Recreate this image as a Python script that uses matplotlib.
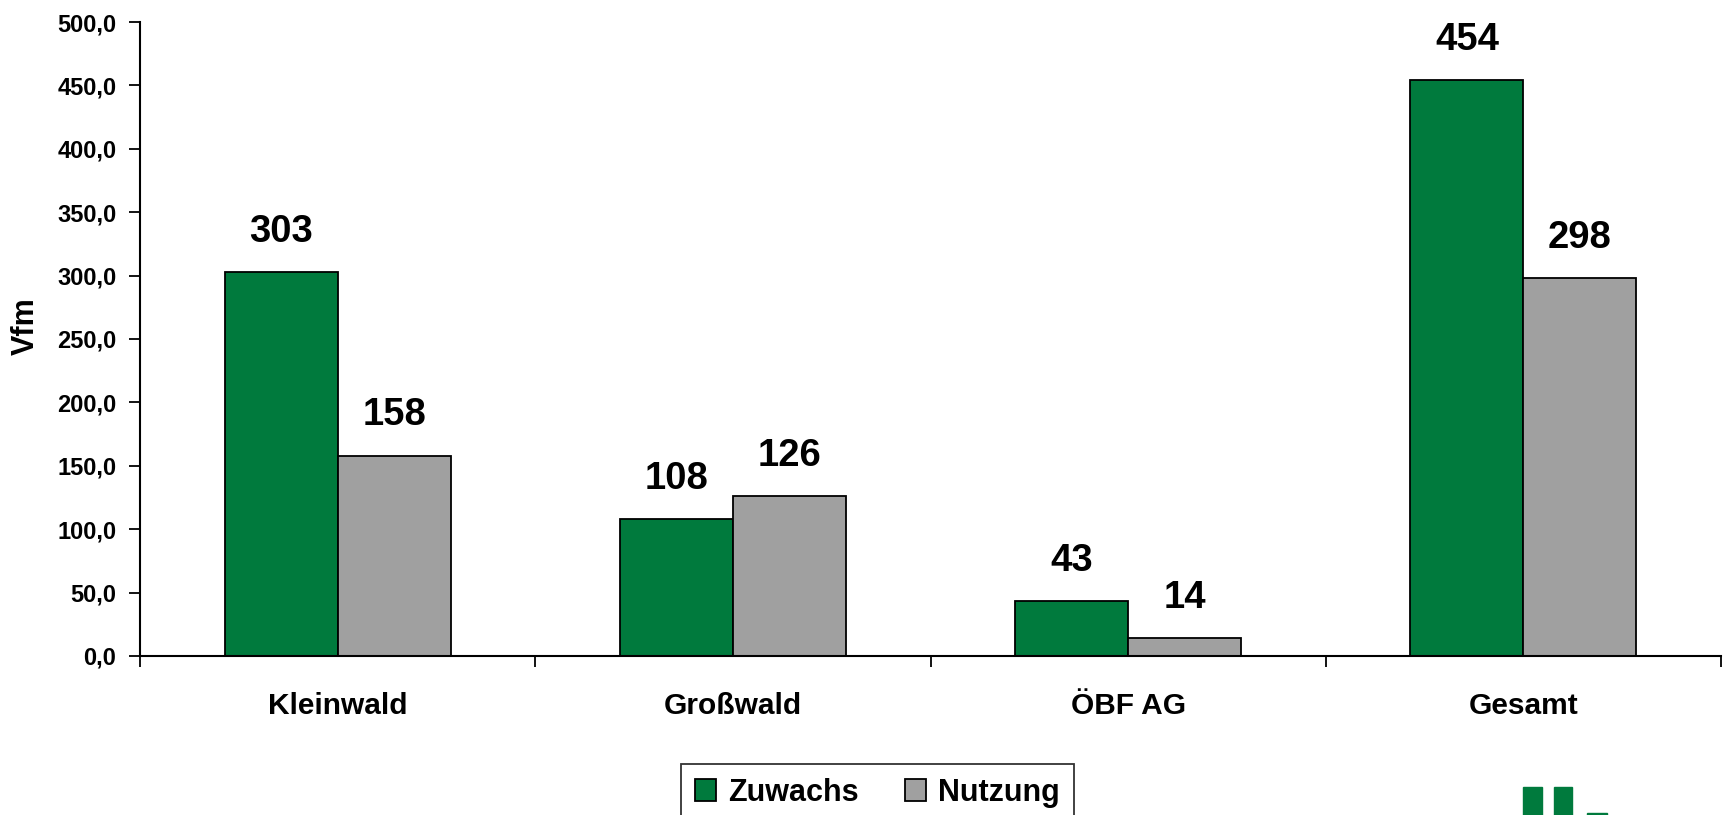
import matplotlib

matplotlib.use("Agg")
import matplotlib.pyplot as plt
from matplotlib.patches import Rectangle
import numpy as np

categories = ["Kleinwald", "Großwald", "ÖBF AG", "Gesamt"]
zuwachs = [303, 108, 43, 454]
nutzung = [158, 126, 14, 298]
y_ticks = [0, 50, 100, 150, 200, 250, 300, 350, 400, 450, 500]
y_tick_labels = ["0,0", "50,0", "100,0", "150,0", "200,0", "250,0",
                 "300,0", "350,0", "400,0", "450,0", "500,0"]

GREEN = "#007A3D"
GRAY = "#A0A0A0"

plt.rcParams["font.family"] = ["Liberation Sans", "DejaVu Sans"]
plt.rcParams["font.weight"] = "bold"

fig = plt.figure(figsize=(17.24, 8.15), dpi=100)
ax = fig.add_axes([0.0812, 0.1951, 0.9171, 0.7779])

x = np.arange(len(categories))
width = 0.286
b1 = ax.bar(x - width / 2, zuwachs, width, color=GREEN, edgecolor="black",
            linewidth=1.3, label="Zuwachs")
b2 = ax.bar(x + width / 2, nutzung, width, color=GRAY, edgecolor="black",
            linewidth=1.3, label="Nutzung")

for bars, vals in ((b1, zuwachs), (b2, nutzung)):
    for bar, v in zip(bars, vals):
        ax.annotate(f"{v}", (bar.get_x() + bar.get_width() / 2, v),
                    xytext=(0, 16), textcoords="offset points",
                    ha="center", va="bottom", fontsize=27.5, fontweight="bold")

ax.set_xlim(-0.5, len(categories) - 0.5)
ax.set_ylim(0, 500)
ax.set_yticks(y_ticks)
ax.set_yticklabels(y_tick_labels, fontsize=17, fontweight="bold")
ax.tick_params(axis="y", length=8, width=1.3, pad=9)

ax.set_xticks(np.arange(len(categories) + 1) - 0.5)
ax.set_xticklabels([])
ax.set_xticks(x, minor=True)
ax.set_xticklabels(categories, minor=True, fontsize=21.5, fontweight="bold")
ax.tick_params(axis="x", which="major", length=8, width=1.3)
ax.tick_params(axis="x", which="minor", length=0, pad=26)

for side in ("top", "right"):
    ax.spines[side].set_visible(False)
for side in ("left", "bottom"):
    ax.spines[side].set_linewidth(1.5)

ax.set_ylabel("Vfm", fontsize=22, fontweight="bold")
ax.yaxis.set_label_coords(-0.063, 0.52)

leg = fig.legend(handles=[b1, b2], loc="upper center",
                 bbox_to_anchor=(0.509, 0.0627), ncol=2, frameon=True,
                 fancybox=False, edgecolor="black", fontsize=22,
                 handlelength=0.7, handleheight=0.7, handletextpad=0.4,
                 columnspacing=1.5, borderpad=0.45, borderaxespad=0)
leg.get_frame().set_linewidth(1.3)

# logo fragments in bottom right corner
for (lx, ly, lw, lh) in [(1523, 0, 19, 28), (1554, 0, 18, 28), (1587, 0, 20, 2)]:
    fig.patches.append(Rectangle((lx / 1724, ly / 815), lw / 1724, lh / 815,
                                 transform=fig.transFigure, color=GREEN))

fig.savefig("out.png", dpi=100)
